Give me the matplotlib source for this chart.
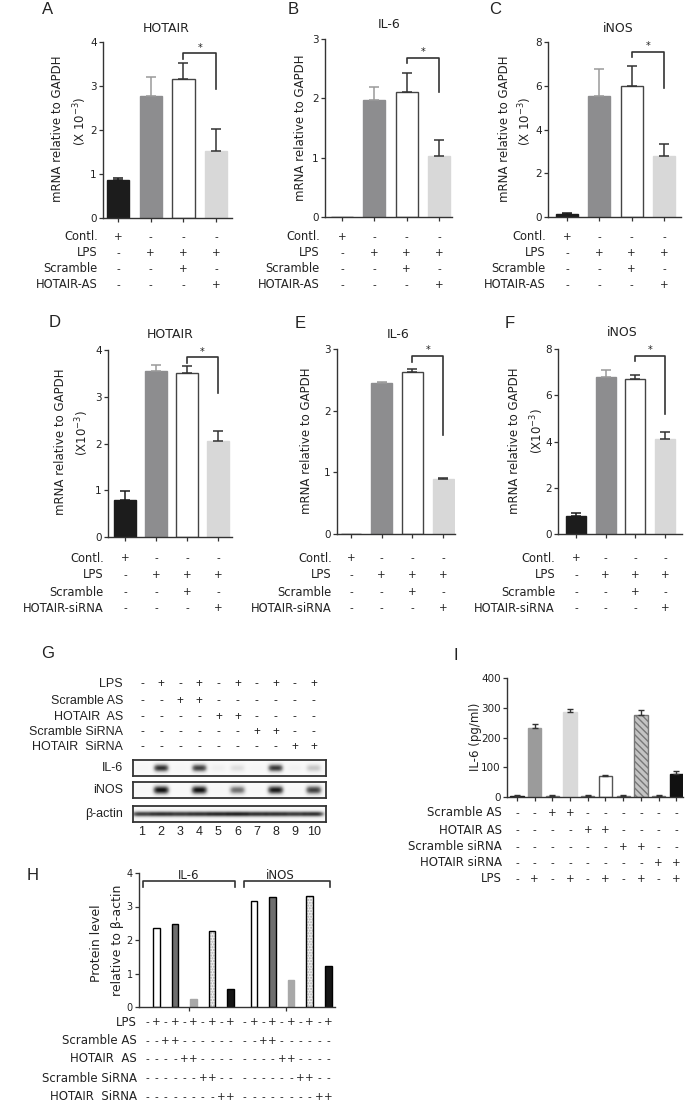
import numpy as np
import matplotlib
matplotlib.use('Agg')
import matplotlib.pyplot as plt
from matplotlib.transforms import blended_transform_factory

plt.rcParams['font.family'] = ['DejaVu Sans']
plt.rcParams['mathtext.fontset'] = 'dejavusans'
plt.rcParams['text.color'] = '#222222'
plt.rcParams['xtick.labelcolor'] = '#222222'
plt.rcParams['ytick.labelcolor'] = '#222222'

W, H = 685, 1102
ARIAL = ['Liberation Sans', 'DejaVu Sans']

# ---------------- data ----------------
# A-F: qPCR (mRNA relative to GAPDH)
a_vals = [0.87, 2.78, 3.15, 1.52]
a_errs = [0.05, 0.43, 0.38, 0.50]
b_vals = [0.0, 1.97, 2.10, 1.03]
b_errs = [0.0, 0.22, 0.33, 0.27]
c_vals = [0.15, 5.55, 6.00, 2.78]
c_errs = [0.05, 1.22, 0.92, 0.55]
d_vals = [0.80, 3.55, 3.50, 2.05]
d_errs = [0.18, 0.12, 0.15, 0.22]
e_vals = [0.0, 2.45, 2.63, 0.89]
e_errs = [0.0, 0.02, 0.05, 0.02]
f_vals = [0.78, 6.80, 6.72, 4.12]
f_errs = [0.12, 0.30, 0.17, 0.27]

as_rows = ['Contl.', 'LPS', 'Scramble', 'HOTAIR-AS']
si_rows = ['Contl.', 'LPS', 'Scramble', 'HOTAIR-siRNA']
treat_signs = [['+', '-', '-', '-'],
               ['-', '+', '+', '+'],
               ['-', '-', '+', '-'],
               ['-', '-', '-', '+']]

# G: western blot band intensities per lane
lanes = list(range(1, 11))
il6_band = [0.02, 0.85, 0.03, 0.80, 0.08, 0.18, 0.03, 0.82, 0.06, 0.30]
inos_band = [0.02, 0.95, 0.02, 0.95, 0.02, 0.62, 0.02, 0.92, 0.03, 0.80]
actin_band = [0.80, 0.85, 0.82, 0.85, 0.88, 0.90, 0.85, 0.85, 0.82, 0.85]
blot_rows = ['LPS', 'Scramble AS', 'HOTAIR  AS', 'Scramble SiRNA', 'HOTAIR  SiRNA']
blot_signs = ['-+-+-+-+-+',
              '--++------',
              '----++----',
              '------++--',
              '--------++']

# H: densitometry
h_il6 = [2.35, 2.48, 0.25, 2.27, 0.53]
h_inos = [3.15, 3.27, 0.82, 3.32, 1.22]
h_rows = ['LPS', 'Scramble AS', 'HOTAIR  AS', 'Scramble SiRNA', 'HOTAIR  SiRNA']

# I: ELISA IL-6
i_vals = [5, 232, 5, 285, 5, 70, 5, 277, 5, 78]
i_errs = [1, 14, 1, 12, 1, 3, 1, 17, 1, 10]
i_rows = ['Scramble AS', 'HOTAIR AS', 'Scramble siRNA', 'HOTAIR siRNA', 'LPS']
i_signs = ['--++------',
           '----++----',
           '------++--',
           '--------++',
           '-+-+-+-+-+']

fig = plt.figure(figsize=(W / 100, H / 100), dpi=100)


def box(l, t, r, b):
    return [l / W, 1 - b / H, (r - l) / W, (b - t) / H]


def fx(x):
    return x / W


def fy(y):
    return 1 - y / H


def txt(x, y, s, **kw):
    fig.text(fx(x), fy(y), s, **kw)


def style_axes(ax, fs=7.5):
    for sp in ['top', 'right']:
        ax.spines[sp].set_visible(False)
    for sp in ['left', 'bottom']:
        ax.spines[sp].set_linewidth(1.0)
        ax.spines[sp].set_color('#333333')
    ax.tick_params(direction='out', length=3, width=0.9, color='#333333',
                   labelsize=fs, pad=1.5)


def sign_table(ax, names, rows, ys, xs, right, fs=8, sfs=7.5, family=None):
    tr = blended_transform_factory(ax.transData, fig.transFigure)
    kw = {'family': family} if family else {}
    for name, row, y in zip(names, rows, ys):
        txt(right, y, name, ha='right', va='center', fontsize=fs, **kw)
        for x, s in zip(xs, row):
            ax.text(x, fy(y), s, transform=tr, ha='center', va='center',
                    fontsize=sfs, clip_on=False, **kw)


face = ['#1c1c1c', '#8d8d8f', 'white', '#d8d8d8']
edge = ['#1c1c1c', '#8d8d8f', '#444444', '#d8d8d8']
ecol = ['#1c1c1c', '#9a9a9a', '#333333', '#333333']


def mrna_panel(bx, c0, s, vals, errs, ymax, ystep, title, tpos, letter, lpos,
               ylabs, row_names, row_ys, right, br):
    l, t, r, b = bx
    ax = fig.add_axes(box(*bx))
    x = np.arange(len(vals))
    for i in x:
        ax.bar(i, vals[i], width=0.68, color=face[i], edgecolor=edge[i],
               linewidth=1.0, zorder=2)
        if errs[i] > 0:
            ax.errorbar(i, vals[i], yerr=[[0], [errs[i]]], fmt='none',
                        ecolor=ecol[i], elinewidth=1.1, capsize=3.5,
                        capthick=1.1, zorder=3)
    ax.set_xlim((l - c0) / s, (r - c0) / s)
    ax.set_ylim(0, ymax)
    ax.set_yticks(np.arange(0, ymax + 0.01, ystep))
    ax.set_xticks(x)
    ax.set_xticklabels([])
    style_axes(ax)
    # significance bracket
    yb, ye = br
    tk = ymax * 0.03
    ax.plot([2, 2, 3, 3], [yb - tk, yb, yb, ye], color='#333333', lw=1.2,
            clip_on=False, zorder=4)
    ax.text(2.5, yb + ymax * 0.005, '*', ha='center', va='bottom', fontsize=7)
    txt(tpos[0], tpos[1], title, ha='center', va='center', fontsize=9)
    txt(lpos[0], lpos[1], letter, ha='center', va='center', fontsize=12,
        family=ARIAL)
    for (lx, ly, lab) in ylabs:
        txt(lx, ly, lab, ha='center', va='center', rotation=90, fontsize=8.5)
    sign_table(ax, row_names, treat_signs, row_ys, x, right, fs=8.3)
    return ax


exp_as = '(X 10$^{\\mathregular{-3}}$)'
exp_si = '(X10$^{\\mathregular{-3}}$)'
ylab = 'mRNA relative to GAPDH'
rows_top = [237, 253, 269, 285]
rows_mid = [558, 575, 592, 608]

mrna_panel((103, 42, 232, 218), 118, 32.7, a_vals, a_errs, 4, 1, 'HOTAIR',
           (166, 28), 'A', (48, 9), [(58, 129, ylab), (80, 121, exp_as)],
           as_rows, rows_top, 98, (3.74, 2.94))
mrna_panel((325, 39, 452, 217), 342, 32.3, b_vals, b_errs, 3, 1, 'IL-6',
           (389, 25), 'B', (293, 9), [(300, 128, ylab)],
           as_rows, rows_top, 320, (2.68, 2.10))
mrna_panel((548, 42, 681, 217), 567, 32.3, c_vals, c_errs, 8, 2, 'iNOS',
           (618, 29), 'C', (495, 9), [(505, 129, ylab), (525, 121, exp_as)],
           as_rows, rows_top, 546, (7.54, 5.92))
mrna_panel((108, 350, 232, 537), 125, 31.0, d_vals, d_errs, 4, 1, 'HOTAIR',
           (170, 335), 'D', (55, 322), [(61, 442, ylab), (82, 433, exp_si)],
           si_rows, rows_mid, 104, (3.84, 3.07))
mrna_panel((337, 349, 455, 534), 351, 30.7, e_vals, e_errs, 3, 1, 'IL-6',
           (398, 335), 'E', (300, 323), [(307, 441, ylab)],
           si_rows, rows_mid, 332, (2.88, 1.61))
mrna_panel((558, 349, 682, 534), 576, 29.7, f_vals, f_errs, 8, 2, 'iNOS',
           (622, 333), 'F', (510, 323), [(515, 441, ylab), (537, 431, exp_si)],
           si_rows, rows_mid, 555, (7.71, 5.18))

# ---------------- G: western blot ----------------
txt(48, 653, 'G', ha='center', va='center', fontsize=12, family=ARIAL)
xlo = 1 + (133 - 142) / 19.1
xhi = 1 + (326 - 142) / 19.1


def blot(bx, bands, sx, sy, name):
    ax = fig.add_axes(box(*bx))
    xs = np.linspace(xlo, xhi, 500)
    ys = np.linspace(-1, 1, 60)
    X, Y = np.meshgrid(xs, ys)
    img = np.zeros_like(X)
    for lane, v in zip(lanes, bands):
        img += v * np.exp(-np.abs((X - lane) / sx) ** 4) * np.exp(-(Y / sy) ** 2)
    ax.imshow(img, extent=(xlo, xhi, -1, 1), cmap='Greys', vmin=-0.05,
              vmax=1.0, aspect='auto', interpolation='bilinear')
    ax.set_xlim(xlo, xhi)
    ax.set_ylim(-1, 1)
    ax.set_yticks([])
    ax.set_xticks([])
    for sp in ax.spines.values():
        sp.set_linewidth(1.3)
        sp.set_color('#333333')
    txt(123, (bx[1] + bx[3]) / 2, name, ha='right', va='center', fontsize=9,
        family=ARIAL)
    return ax


ax_il6 = blot((133, 760, 326, 776), il6_band, 0.40, 0.50, 'IL-6')
ax_inos = blot((133, 782, 326, 798), inos_band, 0.42, 0.55, 'iNOS')
ax_act = blot((133, 806, 326, 822), actin_band, 0.55, 0.36, '\u03b2-actin')
ax_act.set_xticks(lanes)
ax_act.set_xticklabels([str(n) for n in lanes], fontsize=9, family=ARIAL)
ax_act.tick_params(axis='x', length=0, pad=3)
sign_table(ax_il6, blot_rows, blot_signs, [684, 701, 717, 732, 747], lanes,
           123, fs=9, sfs=8.5, family=ARIAL)

# ---------------- H: densitometry ----------------
txt(33, 875, 'H', ha='center', va='center', fontsize=12, family=ARIAL)
hx = 147
hs = 9.3
pos_g1 = list(np.arange(10, dtype=float))
pos_g2 = list(np.arange(10, dtype=float) + 10.5)
axh = fig.add_axes(box(139, 873, 335, 1007))
h_face = ['white', '#6e6e6e', '#a8a8a8', '#f0f0f0', '#151515']
h_edge = ['black', 'black', '#a8a8a8', 'black', 'black']
for grp, vals in ((pos_g1, h_il6), (pos_g2, h_inos)):
    for k, v in enumerate(vals):
        xb = grp[2 * k + 1]
        if k == 3:
            axh.bar(xb, v, width=0.7, color=h_face[k], hatch='......',
                    edgecolor='#b0b0b0', linewidth=0, zorder=2)
            axh.bar(xb, v, width=0.7, fill=False, edgecolor='black',
                    linewidth=1.0, zorder=3)
        else:
            axh.bar(xb, v, width=0.7, color=h_face[k], edgecolor=h_edge[k],
                    linewidth=1.0, zorder=2)
axh.set_xlim((139 - hx) / hs, (335 - hx) / hs)
axh.set_ylim(0, 4)
axh.set_yticks([0, 1, 2, 3, 4])
axh.set_xticks([4.5, 15.0])
axh.set_xticklabels([])
style_axes(axh, fs=7)
for (x0, x1, lab, lx) in ((-0.43, 9.46, 'IL-6', 4.5), (10.43, 19.7, 'iNOS', 14.3)):
    axh.plot([x0, x0, x1, x1], [3.58, 3.76, 3.76, 3.58], color='#333333',
             lw=1.2, clip_on=False)
    axh.text(lx, 3.74, lab, ha='center', va='bottom', fontsize=8.5)
txt(97, 943, 'Protein level', ha='center', va='center', rotation=90, fontsize=9)
txt(117, 940, 'relative to \u03b2-actin', ha='center', va='center', rotation=90,
    fontsize=9)
h_ys = [1022, 1041, 1059, 1078, 1097]
sign_table(axh, h_rows, [s + s for s in blot_signs], h_ys, pos_g1 + pos_g2, 137,
           fs=8.5, sfs=7.5)

# ---------------- I: ELISA ----------------
txt(456, 655, 'I', ha='center', va='center', fontsize=12, family=ARIAL)
axi = fig.add_axes(box(507, 678, 683, 797))
i_face = ['#1e1e1e', '#9b9b9b', '#7a7a7a', '#d9d9d9', '#7a7a7a', 'white',
          '#7a7a7a', '#c4c4c4', '#7a7a7a', '#111111']
i_edge = ['#1e1e1e', '#9b9b9b', '#7a7a7a', '#d9d9d9', '#7a7a7a', '#555555',
          '#7a7a7a', '#777777', '#7a7a7a', '#111111']
ix = np.arange(10)
for k in ix:
    hatch = '\\\\\\\\\\' if k == 7 else None
    axi.bar(k, i_vals[k], width=0.75, color=i_face[k], edgecolor=i_edge[k],
            hatch=hatch, linewidth=1.0, zorder=2)
    axi.errorbar(k, i_vals[k], yerr=[[0], [i_errs[k]]], fmt='none',
                 ecolor='#333333', elinewidth=1.0, capsize=2.5, capthick=1.0,
                 zorder=3)
axi.set_xlim((507 - 517) / 17.7, (683 - 517) / 17.7)
axi.set_ylim(0, 400)
axi.set_yticks([0, 100, 200, 300, 400])
axi.set_xticks(ix)
axi.set_xticklabels([])
style_axes(axi, fs=7.5)
txt(475, 737, 'IL-6 (pg/ml)', ha='center', va='center', rotation=90, fontsize=8.5)
sign_table(axi, i_rows, i_signs, [813, 830, 847, 863, 879], ix, 502,
           fs=8.5, sfs=7.5)

fig.savefig('out.png', dpi=100)
